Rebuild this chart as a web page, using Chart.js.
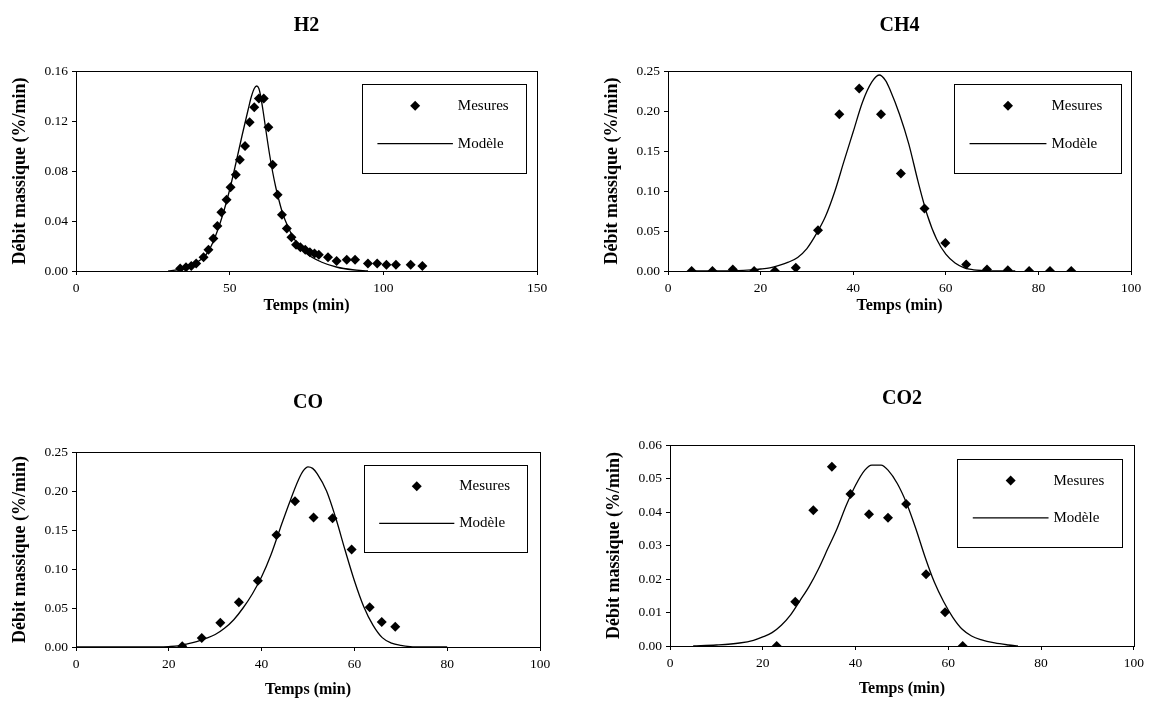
<!DOCTYPE html>
<html>
<head>
<meta charset="utf-8">
<title>Débit massique</title>
<script src="https://cdn.jsdelivr.net/npm/chart.js@4.4.0/dist/chart.umd.min.js"></script>
<style>
    body { margin: 0; background: #fff; width: 1149px; height: 705px; overflow: hidden; position: relative; }
    .panel { position: absolute; }
</style>
</head>
<body>
<div class="panel" style="left:0px;top:0px;width:560px;height:315px"><canvas id="chartH2"></canvas></div>
<div class="panel" style="left:592px;top:0px;width:557px;height:315px"><canvas id="chartCH4"></canvas></div>
<div class="panel" style="left:0px;top:370px;width:560px;height:329px"><canvas id="chartCO"></canvas></div>
<div class="panel" style="left:594px;top:370px;width:555px;height:328px"><canvas id="chartCO2"></canvas></div>

<script>
// H2
var h2MesX = [33.9, 35.8, 37.5, 39.1, 41.5, 43.1, 44.7, 46.0, 47.3, 49.0, 50.3, 52.0, 53.3, 55.0, 56.5, 58.0, 59.5, 61.1, 62.6, 64.0,
              65.6, 67.0, 68.6, 70.1, 71.6, 73.0, 74.6, 76.1, 77.6, 79.0, 82.0, 84.8, 88.1, 90.8, 95.0, 98.0, 101.0, 104.1, 108.9, 112.7];
var h2MesY = [0.002, 0.003, 0.004, 0.006, 0.011, 0.017, 0.026, 0.036, 0.047, 0.057, 0.067, 0.077, 0.089, 0.100, 0.119, 0.131, 0.138, 0.138, 0.115, 0.085,
              0.061, 0.045, 0.034, 0.027, 0.021, 0.019, 0.017, 0.015, 0.014, 0.013, 0.011, 0.008, 0.009, 0.009, 0.006, 0.006, 0.005, 0.005, 0.005, 0.004];
var h2ModX = [30, 33, 35, 38, 40, 42, 44, 46, 48, 50, 52, 54, 56, 57, 58, 58.8, 59.5, 60, 61, 62, 63, 64, 65, 66, 67, 68, 70, 72, 75, 80, 85, 90, 95];
var h2ModY = [0, 0.001, 0.002, 0.005, 0.008, 0.012, 0.020, 0.032, 0.047, 0.065, 0.086, 0.108, 0.129, 0.139, 0.146, 0.148, 0.146, 0.141, 0.126, 0.109,
              0.093, 0.079, 0.067, 0.057, 0.048, 0.041, 0.030, 0.022, 0.014, 0.007, 0.003, 0.001, 0];

// CH4
var ch4MesX = [5.1, 9.6, 14.0, 18.6, 23.1, 27.6, 32.4, 37.0, 41.3, 46.0, 50.3, 55.4, 59.9, 64.4, 68.9, 73.4, 78.0, 82.5, 87.1];
var ch4MesY = [0, 0, 0.002, 0, 0, 0.004, 0.051, 0.196, 0.228, 0.196, 0.122, 0.078, 0.035, 0.008, 0.002, 0.001, 0, 0, 0];
var ch4ModX = [5, 10, 15, 18, 20, 22, 24, 26, 28, 30, 32, 34, 36, 38, 40, 42, 44, 45.6, 47, 48, 50, 52, 54, 56, 58, 60, 62, 64, 66, 68, 70, 75];
var ch4ModY = [0, 0, 0.0005, 0.0015, 0.0025, 0.004, 0.007, 0.011, 0.017, 0.028, 0.046, 0.068, 0.099, 0.137, 0.174, 0.211, 0.236, 0.245, 0.238, 0.226,
               0.196, 0.159, 0.112, 0.07, 0.04, 0.021, 0.01, 0.004, 0.0015, 0.0005, 0, 0];

// CO
var coMesX = [22.9, 27.1, 31.1, 35.1, 39.2, 43.2, 47.2, 51.2, 55.3, 59.4, 63.3, 65.9, 68.8];
var coMesY = [0.001, 0.0115, 0.031, 0.0575, 0.085, 0.1435, 0.187, 0.166, 0.165, 0.125, 0.051, 0.032, 0.026];
var coModX = [0, 10, 18, 20, 22, 24, 26, 28, 30, 32, 34, 36, 38, 40, 42, 44, 46, 48, 49, 50, 51, 52, 54, 56, 58, 60, 62, 64, 66, 68, 70, 72, 75, 80];
var coModY = [0, 0, 0, 0.0005, 0.0015, 0.004, 0.007, 0.011, 0.016, 0.024, 0.035, 0.05, 0.068, 0.09, 0.118, 0.152, 0.185, 0.215, 0.226, 0.231,
              0.229, 0.222, 0.2, 0.165, 0.124, 0.085, 0.052, 0.028, 0.012, 0.005, 0.002, 0.0005, 0, 0];

// CO2
var co2MesX = [23.0, 27.0, 30.9, 34.9, 38.9, 42.9, 47.0, 50.9, 55.2, 59.3, 63.1];
var co2MesY = [0, 0.0132, 0.0405, 0.0535, 0.0454, 0.0393, 0.0383, 0.0424, 0.0214, 0.0101, 0];
var co2ModX = [5, 10, 15, 18, 20, 22, 24, 26, 28, 30, 32, 34, 36, 38, 40, 42, 43.5, 45.5, 47, 49, 51, 53, 55, 57, 59, 61, 63, 65, 67, 70, 73, 75];
var co2ModY = [0, 0.0003, 0.0009, 0.0017, 0.0027, 0.004, 0.0062, 0.0093, 0.0135, 0.0178, 0.023, 0.029, 0.035, 0.042, 0.048, 0.0525, 0.054, 0.054, 0.0525, 0.0485,
               0.0426, 0.035, 0.0265, 0.019, 0.0132, 0.0085, 0.005, 0.003, 0.0019, 0.0009, 0.0003, 0];

var seriesNames = ['Mesures', 'Modèle'];
var xTitle = 'Temps (min)';
var yTitle = 'Débit massique (%/min)';

Chart.defaults.font.family = '"Liberation Serif", "Times New Roman", serif';
Chart.defaults.color = '#000';

function pairs(xs, ys) {
    return xs.map(function(x, i) { return { x: x, y: ys[i] }; });
}

// black frame round the plot area
var framePlugin = {
    id: 'frame',
    afterDatasetsDraw: function(chart) {
        var a = chart.chartArea, ctx = chart.ctx;
        ctx.save();
        ctx.strokeStyle = '#000';
        ctx.lineWidth = 1;
        ctx.strokeRect(Math.round(a.left) + 0.5, Math.round(a.top) + 0.5, Math.round(a.width), Math.round(a.height));
        ctx.restore();
    }
};

// boxed legend inside the plot, like the original Excel figure
var boxLegendPlugin = {
    id: 'boxLegend',
    afterDraw: function(chart, args, opts) {
        var a = chart.chartArea, ctx = chart.ctx;
        var l = a.left + opts.box[0] * a.width, r = a.left + opts.box[1] * a.width;
        var t = a.top + opts.box[2] * a.height, b = a.top + opts.box[3] * a.height;
        var w = r - l, h = b - t;
        var ds = chart.data.datasets;
        ctx.save();
        ctx.fillStyle = '#fff';
        ctx.fillRect(l, t, w, h);
        ctx.strokeStyle = '#000';
        ctx.lineWidth = 1;
        ctx.strokeRect(Math.round(l) + 0.5, Math.round(t) + 0.5, Math.round(w), Math.round(h));

        var y1 = t + 0.245 * h, y2 = t + 0.67 * h;
        // diamond
        var cx = l + 0.325 * w, rr = 5;
        ctx.fillStyle = '#000';
        ctx.beginPath();
        ctx.moveTo(cx, y1 - rr); ctx.lineTo(cx + rr, y1); ctx.lineTo(cx, y1 + rr); ctx.lineTo(cx - rr, y1);
        ctx.closePath();
        ctx.fill();
        // line
        ctx.beginPath();
        ctx.lineWidth = 1.3;
        ctx.moveTo(l + 0.095 * w, y2);
        ctx.lineTo(l + 0.555 * w, y2);
        ctx.stroke();

        ctx.font = '15px "Liberation Serif", "Times New Roman", serif';
        ctx.textBaseline = 'middle';
        ctx.textAlign = 'left';
        ctx.fillText(ds[0].label, l + 0.585 * w, y1);
        ctx.fillText(ds[1].label, l + 0.585 * w, y2);
        ctx.restore();
    }
};

function makeChart(id, title, mesX, mesY, modX, modY, cfg) {
    var ctx = document.getElementById(id).getContext('2d');
    return new Chart(ctx, {
        type: 'scatter',
        data: {
            datasets: [
                {
                    label: seriesNames[0],
                    data: pairs(mesX, mesY),
                    pointStyle: 'rectRot',
                    pointRadius: 5,
                    backgroundColor: '#000',
                    borderColor: '#000',
                    borderWidth: 0,
                    showLine: false
                },
                {
                    label: seriesNames[1],
                    data: pairs(modX, modY),
                    showLine: true,
                    pointRadius: 0,
                    borderColor: '#000',
                    borderWidth: 1.3,
                    cubicInterpolationMode: 'monotone',
                    fill: false
                }
            ]
        },
        options: {
            responsive: true,
            maintainAspectRatio: false,
            animation: false,
            layout: { padding: { left: 0, right: cfg.padRight, top: 0, bottom: 0 } },
            plugins: {
                legend: { display: false },
                tooltip: { enabled: false },
                title: {
                    display: true,
                    text: title,
                    fullSize: false,
                    font: { size: 20, weight: 'bold' },
                    padding: { top: cfg.titleTop, bottom: cfg.titleBottom }
                },
                boxLegend: { box: cfg.legendBox }
            },
            scales: {
                x: {
                    type: 'linear',
                    min: 0,
                    max: cfg.xMax,
                    afterFit: function(s) { s.height = cfg.xAxisHeight; },
                    ticks: { stepSize: cfg.xStep, padding: 5, font: { size: 13.5 } },
                    grid: { display: true, drawOnChartArea: false, drawTicks: true, tickLength: 4, color: '#000' },
                    border: { display: true, color: '#000', width: 1 },
                    title: { display: true, text: xTitle, font: { size: 16, weight: 'bold' }, padding: { top: 0, bottom: 0 } }
                },
                y: {
                    type: 'linear',
                    min: 0,
                    max: cfg.yMax,
                    afterFit: function(s) { s.width = 76; },
                    ticks: {
                        stepSize: cfg.yStep,
                        padding: 4,
                        font: { size: 13.5 },
                        callback: function(v) { return Number(v).toFixed(2); }
                    },
                    grid: { display: true, drawOnChartArea: false, drawTicks: true, tickLength: 4, color: '#000' },
                    border: { display: true, color: '#000', width: 1 },
                    title: { display: true, text: yTitle, font: { size: 18, weight: 'bold' }, padding: { top: 10, bottom: 0 } }
                }
            }
        },
        plugins: [framePlugin, boxLegendPlugin]
    });
}

makeChart('chartH2', 'H2', h2MesX, h2MesY, h2ModX, h2ModY, {
    xMax: 150, xStep: 50, yMax: 0.16, yStep: 0.04,
    padRight: 23, titleTop: 14, titleBottom: 33, xAxisHeight: 44,
    legendBox: [0.62, 0.976, 0.065, 0.51]
});
makeChart('chartCH4', 'CH4', ch4MesX, ch4MesY, ch4ModX, ch4ModY, {
    xMax: 100, xStep: 20, yMax: 0.25, yStep: 0.05,
    padRight: 18, titleTop: 14, titleBottom: 33, xAxisHeight: 44,
    legendBox: [0.617, 0.978, 0.065, 0.51]
});
makeChart('chartCO', 'CO', coMesX, coMesY, coModX, coModY, {
    xMax: 100, xStep: 20, yMax: 0.25, yStep: 0.05,
    padRight: 20, titleTop: 21, titleBottom: 37, xAxisHeight: 52,
    legendBox: [0.62, 0.972, 0.067, 0.513]
});
makeChart('chartCO2', 'CO2', co2MesX, co2MesY, co2ModX, co2ModY, {
    xMax: 100, xStep: 20, yMax: 0.06, yStep: 0.01,
    padRight: 15, titleTop: 17, titleBottom: 34, xAxisHeight: 52,
    legendBox: [0.619, 0.974, 0.07, 0.507]
});
</script>
</body>
</html>
